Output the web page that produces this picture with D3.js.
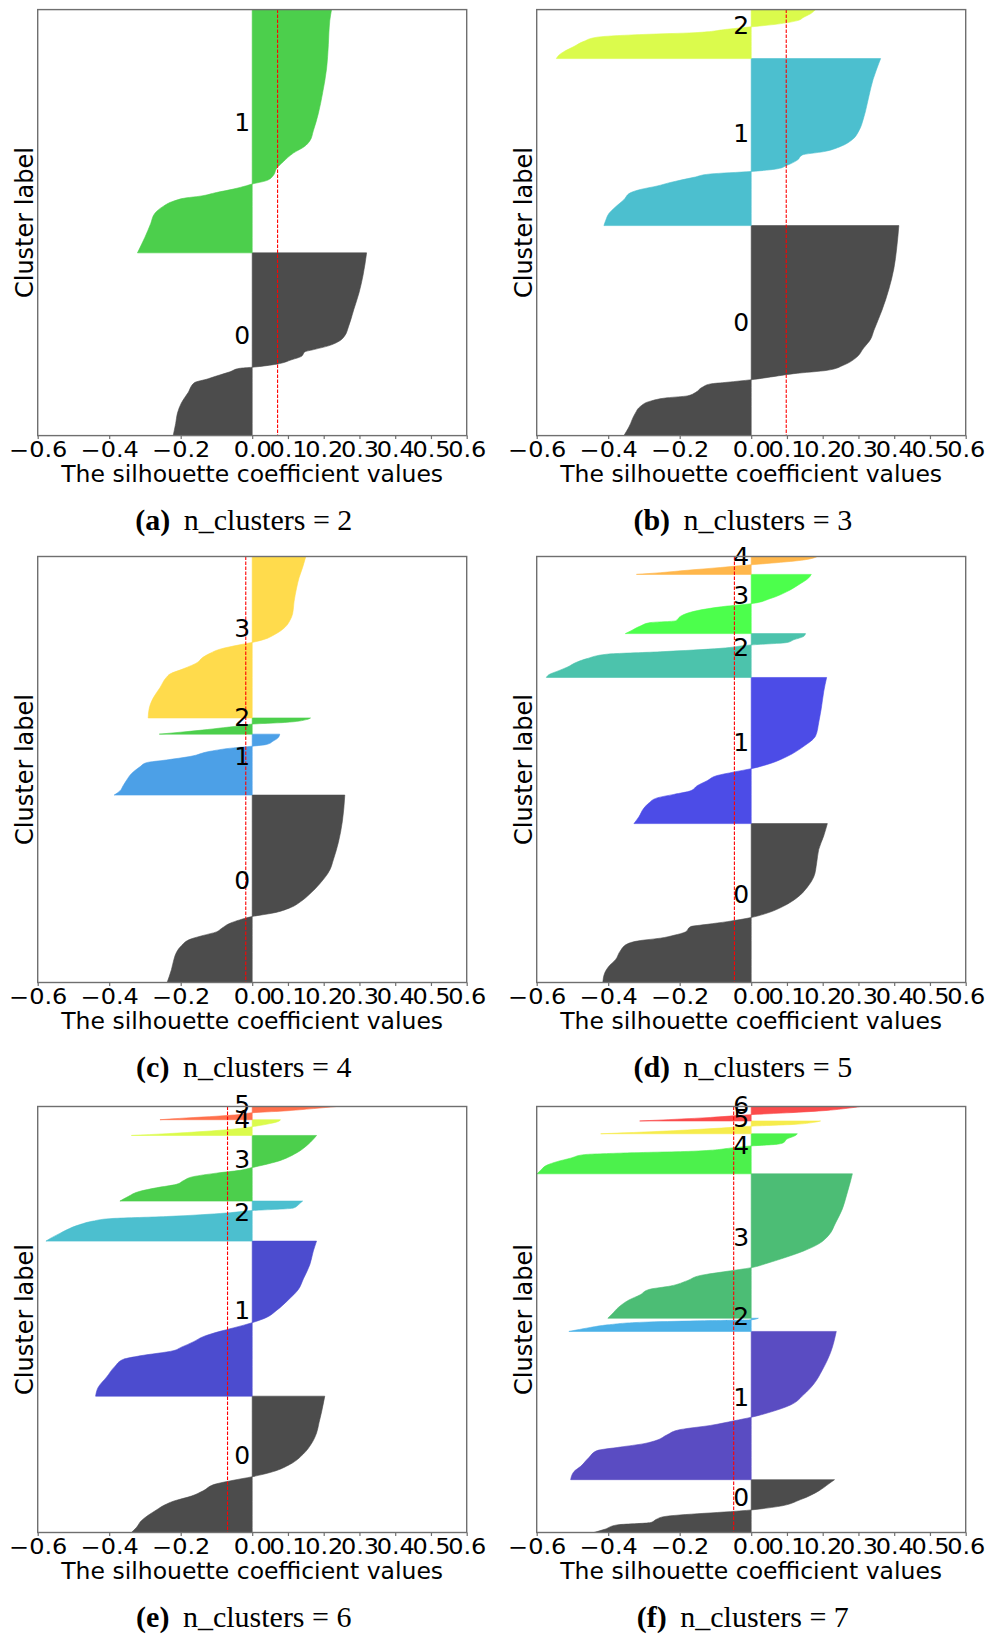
<!DOCTYPE html>
<html>
<head>
<meta charset="utf-8">
<script src="https://cdn.jsdelivr.net/npm/d3@7"></script>
<style>
  body { margin: 0; background: #fff; }
  svg { display: block; }
</style>
</head>
<body>
<svg id="chart" width="988" height="1639"></svg>
<script>
// silhouette plots for k = 2..7
// each cluster: [quantile inside cluster, silhouette value], sorted ascending
var nClusters = [2, 3, 4, 5, 6, 7];
var letters = ['a', 'b', 'c', 'd', 'e', 'f'];
var avgScores = [0.071, 0.098, -0.018, -0.047, -0.069, -0.049];
var xTicks = [-0.6, -0.4, -0.2, 0, 0.1, 0.2, 0.3, 0.4, 0.5, 0.6];

var sizes2 = [429, 571];
var sil2 = [
  [[0,-.221],[.066,-.214],[.123,-.209],[.179,-.198],[.236,-.179],[.289,-.162],[.311,-.123],[.326,-.10],[.349,-.062],[.368,-.035],[.374,0],[.391,.068],[.415,.11],[.434,.138],[.458,.147],[.472,.175],[.491,.213],[.519,.245],[.547,.259],[.594,.269],[.689,.284],[.783,.299],[.877,.31],[1,.32]],
  [[0,-.321],[.021,-.314],[.064,-.30],[.12,-.284],[.163,-.272],[.191,-.249],[.212,-.221],[.226,-.184],[.233,-.146],[.248,-.10],[.262,-.053],[.276,-.016],[.283,0],[.297,.04],[.318,.059],[.347,.068],[.375,.087],[.41,.115],[.438,.147],[.46,.161],[.502,.171],[.573,.185],[.658,.197],[.757,.208],[.856,.213],[.955,.217],[1,.222]]
];

var sizes3 = [493, 392, 115];
var sil3 = [
  [[0,-.356],[.041,-.342],[.107,-.324],[.139,-.31],[.164,-.282],[.18,-.235],[.189,-.179],[.205,-.156],[.23,-.137],[.246,-.114],[.254,-.067],[.266,0],[.279,.054],[.295,.119],[.311,.213],[.336,.259],[.369,.292],[.418,.315],[.459,.334],[.5,.343],[.598,.366],[.697,.385],[.795,.399],[.893,.407],[1,.413]],
  [[0,-.412],[.031,-.407],[.072,-.398],[.113,-.379],[.155,-.356],[.196,-.338],[.216,-.31],[.237,-.263],[.258,-.226],[.289,-.16],[.309,-.114],[.324,0],[.34,.073],[.361,.10],[.392,.129],[.423,.143],[.443,.203],[.474,.25],[.515,.283],[.567,.301],[.649,.315],[.773,.329],[.876,.341],[.938,.351],[1,.362]],
  [[0,-.545],[.07,-.538],[.141,-.524],[.246,-.496],[.352,-.468],[.437,-.431],[.493,-.30],[.528,-.16],[.599,-.067],[.648,0],[.704,.073],[.775,.129],[.845,.147],[.915,.166],[1,.18]]
];

var sizes4 = [440, 143, 38, 379];
var sil4 = [
  [[0,-.238],[.068,-.226],[.123,-.219],[.16,-.212],[.196,-.198],[.233,-.17],[.251,-.137],[.27,-.10],[.288,-.086],[.316,-.062],[.334,-.035],[.352,0],[.371,.059],[.398,.105],[.435,.138],[.472,.161],[.527,.189],[.6,.217],[.655,.227],[.747,.241],[.857,.252],[1,.259]],
  [[0,-.386],[.068,-.37],[.153,-.361],[.237,-.352],[.35,-.338],[.463,-.314],[.531,-.296],[.576,-.24],[.633,-.174],[.718,-.118],[.774,-.053],[.802,0],[.831,.04],[.887,.059],[.944,.073],[1,.077]],
  [[0,-.26],[.12,-.2],[.25,-.14],[.4,-.08],[.55,-.02],[.62,0],[.72,.09],[.9,.152],[1,.163]],
  [[0,-.291],[.06,-.288],[.123,-.277],[.187,-.258],[.251,-.24],[.272,-.23],[.304,-.193],[.347,-.151],[.368,-.142],[.4,-.118],[.426,-.09],[.453,-.035],[.468,0],[.485,.031],[.517,.063],[.56,.091],[.602,.105],[.645,.113],[.719,.117],[.804,.124],[.868,.131],[.932,.141],[1,.15]]
];

var sizes5 = [373, 343, 103, 139, 42];
var sil5 = [
  [[0,-.415],[.058,-.41],[.102,-.398],[.145,-.379],[.199,-.366],[.242,-.347],[.264,-.31],[.279,-.254],[.297,-.216],[.318,-.184],[.351,-.17],[.366,-.123],[.383,-.067],[.409,0],[.437,.045],[.481,.091],[.535,.129],[.6,.157],[.665,.175],[.751,.183],[.838,.189],[.924,.203],[1,.213]],
  [[0,-.328],[.047,-.314],[.106,-.30],[.141,-.286],[.176,-.263],[.2,-.216],[.224,-.17],[.259,-.151],[.294,-.123],[.329,-.095],[.353,-.048],[.376,0],[.412,.054],[.459,.10],[.529,.147],[.6,.18],[.694,.189],[.788,.196],[.906,.203],[1,.211]],
  [[0,-.573],[.063,-.566],[.156,-.538],[.234,-.515],[.352,-.487],[.43,-.459],[.531,-.403],[.586,-.254],[.664,-.086],[.742,0],[.797,.10],[.859,.119],[.938,.147],[1,.152]],
  [[0,-.352],[.058,-.333],[.128,-.31],[.186,-.282],[.215,-.212],[.291,-.198],[.36,-.17],[.419,-.123],[.465,-.067],[.506,0],[.593,.054],[.709,.10],[.826,.133],[.942,.161],[1,.168]],
  [[0,-.321],[.096,-.254],[.231,-.179],[.385,-.086],[.538,0],[.673,.082],[.808,.147],[.923,.175],[1,.185]]
];

var sizes6 = [320, 364, 94, 154, 37, 31];
var sil6 = [
  [[0,-.338],[.036,-.324],[.087,-.31],[.126,-.291],[.165,-.268],[.203,-.244],[.229,-.221],[.267,-.17],[.306,-.137],[.357,-.10],[.383,-.053],[.409,0],[.447,.059],[.499,.105],[.576,.143],[.653,.166],[.73,.18],[.807,.187],[.884,.194],[1,.203]],
  [[0,-.438],[.056,-.431],[.124,-.407],[.192,-.384],[.237,-.361],[.26,-.314],[.293,-.221],[.316,-.198],[.35,-.165],[.384,-.137],[.418,-.09],[.44,-.053],[.474,0],[.508,.04],[.553,.068],[.621,.101],[.688,.129],[.756,.143],[.847,.161],[.937,.171],[1,.18]],
  [[0,-.577],[.061,-.566],[.193,-.538],[.281,-.519],[.412,-.482],[.5,-.445],[.561,-.398],[.614,-.24],[.702,-.072],[.763,0],[.825,.115],[.939,.133],[1,.141]],
  [[0,-.37],[.069,-.347],[.149,-.314],[.202,-.268],[.255,-.212],[.309,-.193],[.372,-.165],[.426,-.10],[.468,-.035],[.511,0],[.601,.068],[.734,.124],[.867,.157],[1,.18]],
  [[0,-.338],[.111,-.24],[.267,-.128],[.444,-.035],[.556,0],[.711,.04],[.889,.073],[1,.079]],
  [[0,-.258],[.132,-.184],[.263,-.10],[.395,-.035],[.526,0],[.658,.087],[.842,.171],[1,.236]]
];

var sizes7 = [124, 348, 31, 339, 94, 30, 34];
var sil7 = [
  [[0,-.44],[.06,-.41],[.144,-.375],[.187,-.282],[.25,-.265],[.30,-.244],[.427,0],[.49,.073],[.623,.138],[.788,.189],[.921,.217],[1,.233]],
  [[0,-.505],[.054,-.496],[.09,-.477],[.149,-.454],[.196,-.431],[.22,-.366],[.243,-.30],[.267,-.263],[.303,-.235],[.338,-.198],[.366,-.114],[.397,-.048],[.421,0],[.456,.054],[.504,.11],[.574,.147],[.645,.175],[.74,.199],[.858,.222],[1,.238]],
  [[0,-.51],[.1,-.49],[.3,-.45],[.5,-.40],[.7,-.30],[.8,-.15],[.88,0],[1,.02]],
  [[0,-.401],[.029,-.389],[.078,-.37],[.126,-.342],[.163,-.31],[.199,-.286],[.223,-.226],[.26,-.179],[.296,-.142],[.325,-.067],[.35,0],[.381,.045],[.417,.091],[.466,.147],[.515,.189],[.575,.217],[.66,.236],[.757,.255],[.854,.267],[.951,.278],[1,.283]],
  [[0,-.599],[.087,-.589],[.217,-.571],[.304,-.543],[.391,-.505],[.478,-.468],[.522,-.347],[.565,-.16],[.652,-.048],[.696,0],[.739,.073],[.783,.091],[.87,.10],[.957,.124],[1,.129]],
  [[0,-.421],[.135,-.30],[.351,-.142],[.541,-.03],[.595,0],[.73,.119],[.892,.175],[1,.194]],
  [[0,-.312],[.122,-.207],[.244,-.114],[.39,-.03],[.439,0],[.561,.10],[.732,.213],[.878,.269],[1,.306]]
];

// nipy_spectral at alpha 0.7 on white
var palettes = [
  ['#4c4c4c', '#4ccf4c'],
  ['#4c4c4c', '#4cbfcf', '#dbfb4c'],
  ['#4c4c4c', '#4ca0e7', '#4ccf4c', '#ffdb4c'],
  ['#4c4c4c', '#4c4ce7', '#4cc3ac', '#4cff4c', '#ffb74c'],
  ['#4c4c4c', '#4c4ccf', '#4cbfcf', '#4ccf4c', '#dbfb4c', '#ff704c'],
  ['#4c4c4c', '#5a4cc2', '#4cb1e7', '#4cbd75', '#4cf14c', '#f6ec4c', '#fb4c4c']
];

var allSizes = [sizes2, sizes3, sizes4, sizes5, sizes6, sizes7];
var allSil = [sil2, sil3, sil4, sil5, sil6, sil7];

var plotW = 429, plotH = 426;
var colLeft = [37.7, 536.7];
var rowTop = [9.6, 556.5, 1106.5];
var sans = "'DejaVu Sans', sans-serif";
var frameColor = '#6f6f6f';

var svg = d3.select('#chart');
svg.append('rect').attr('width', 988).attr('height', 1639).attr('fill', '#fff');

function tickFmt(d) {
  if (d === 0) return '0.0';
  return (d < 0 ? '\u2212' : '') + Math.abs(d).toFixed(1);
}

nClusters.forEach(function(n, i) {
  var col = i % 2, row = Math.floor(i / 2);
  var sizes = allSizes[i], sil = allSil[i], colors = palettes[i];
  var g = svg.append('g')
      .attr('transform', 'translate(' + colLeft[col] + ',' + rowTop[row] + ')');

  var x = d3.scaleLinear().domain([-0.6, 0.6]).range([0, plotW]);
  var y = d3.scaleLinear().domain([0, d3.sum(sizes)]).range([plotH, 0]);

  g.append('clipPath').attr('id', 'clip' + i)
    .append('rect').attr('width', plotW).attr('height', plotH);

  var fills = g.append('g').attr('clip-path', 'url(#clip' + i + ')');
  var labels = [];
  var lower = 0;
  sizes.forEach(function(sz, k) {
    var lo = lower;
    var area = d3.area()
        .curve(d3.curveMonotoneY)
        .y(function(d) { return y(lo + d[0] * sz); })
        .x0(x(0))
        .x1(function(d) { return x(d[1]); });
    fills.append('path')
      .attr('d', area(sil[k]))
      .attr('fill', colors[k])
      .attr('stroke', colors[k])
      .attr('stroke-width', 0.6);
    labels.push({k: k, y: lo + sz / 2});
    lower += sz;
  });

  // mean silhouette
  g.append('line')
    .attr('x1', x(avgScores[i])).attr('x2', x(avgScores[i]))
    .attr('y1', 0).attr('y2', plotH)
    .attr('stroke', '#ff0000')
    .attr('stroke-width', 1.1)
    .attr('stroke-dasharray', '3.5,1.5');

  g.selectAll('text.clabel')
    .data(labels)
    .enter().append('text')
    .attr('class', 'clabel')
    .attr('x', x(-0.05))
    .attr('y', function(d) { return y(d.y); })
    .attr('font-family', sans)
    .attr('font-size', 25)
    .attr('fill', '#000')
    .text(function(d) { return d.k; });

  var ax = g.append('g')
      .attr('transform', 'translate(0,' + plotH + ')')
      .call(d3.axisBottom(x).tickValues(xTicks).tickSize(3.5).tickFormat(tickFmt));
  ax.select('.domain').remove();
  ax.selectAll('.tick line').attr('stroke', frameColor).attr('stroke-width', 1.2);
  ax.selectAll('.tick text')
    .attr('y', 21.3)
    .attr('dy', 0)
    .attr('fill', '#000')
    .attr('font-family', sans)
    .attr('font-size', 20.5)
    .attr('transform', 'scale(1.17,1)');

  g.append('rect')
    .attr('width', plotW).attr('height', plotH)
    .attr('fill', 'none')
    .attr('stroke', frameColor)
    .attr('stroke-width', 1.4);

  g.append('text')
    .attr('x', plotW / 2).attr('y', plotH + 46)
    .attr('text-anchor', 'middle')
    .attr('font-family', sans).attr('font-size', 23.5)
    .attr('fill', '#000')
    .text('The silhouette coefficient values');

  g.append('text')
    .attr('transform', 'translate(-5,' + (plotH / 2) + ') rotate(-90)')
    .attr('text-anchor', 'middle')
    .attr('font-family', sans).attr('font-size', 24)
    .attr('fill', '#000')
    .text('Cluster label');

  var cap = g.append('text')
    .attr('x', plotW / 2 - 8.4).attr('y', plotH + 94)
    .attr('text-anchor', 'middle')
    .attr('font-family', "'Liberation Serif', 'Times New Roman', serif")
    .attr('font-size', 30)
    .attr('fill', '#000');
  cap.append('tspan').attr('font-weight', 'bold').text('(' + letters[i] + ')');
  cap.append('tspan').attr('dx', 6).text(' n_clusters = ' + n);
});
</script>
</body>
</html>
